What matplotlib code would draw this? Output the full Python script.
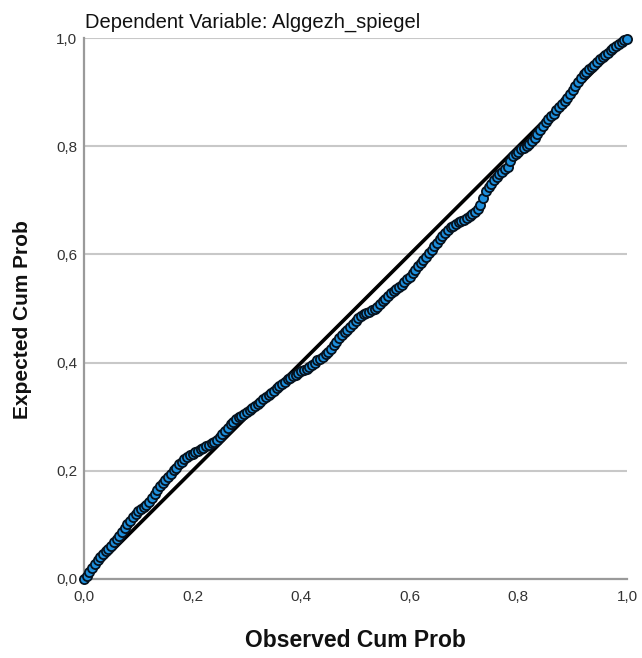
import matplotlib
matplotlib.use("Agg")
import matplotlib.pyplot as plt

plt.rcParams['font.family'] = ['Liberation Sans', 'DejaVu Sans']

title = "Dependent Variable: Alggezh_spiegel"
x_label = "Observed Cum Prob"
y_label = "Expected Cum Prob"
tick_values = [0.0, 0.2, 0.4, 0.6, 0.8, 1.0]
tick_labels = ["0,0", "0,2", "0,4", "0,6", "0,8", "1,0"]

observed = [
    0.000, 0.005, 0.010, 0.015, 0.020, 0.025, 0.030, 0.035, 0.040, 0.045,
    0.050, 0.055, 0.060, 0.065, 0.070, 0.075, 0.080, 0.085, 0.090, 0.095,
    0.100, 0.105, 0.110, 0.115, 0.120, 0.125, 0.130, 0.135, 0.140, 0.145,
    0.150, 0.155, 0.160, 0.165, 0.170, 0.175, 0.180, 0.185, 0.190, 0.195,
    0.200, 0.205, 0.210, 0.215, 0.220, 0.225, 0.230, 0.235, 0.240, 0.245,
    0.250, 0.255, 0.260, 0.265, 0.270, 0.275, 0.280, 0.285, 0.290, 0.295,
    0.300, 0.305, 0.310, 0.315, 0.320, 0.325, 0.330, 0.335, 0.340, 0.345,
    0.350, 0.355, 0.360, 0.365, 0.370, 0.375, 0.380, 0.385, 0.390, 0.395,
    0.400, 0.405, 0.410, 0.415, 0.420, 0.425, 0.430, 0.435, 0.440, 0.445,
    0.450, 0.455, 0.460, 0.465, 0.470, 0.475, 0.480, 0.485, 0.490, 0.495,
    0.500, 0.505, 0.510, 0.515, 0.520, 0.525, 0.530, 0.535, 0.540, 0.545,
    0.550, 0.555, 0.560, 0.565, 0.570, 0.575, 0.580, 0.585, 0.590, 0.595,
    0.600, 0.605, 0.610, 0.615, 0.620, 0.625, 0.630, 0.635, 0.640, 0.645,
    0.650, 0.655, 0.660, 0.665, 0.670, 0.675, 0.680, 0.685, 0.690, 0.695,
    0.700, 0.705, 0.710, 0.715, 0.720, 0.725, 0.730, 0.735, 0.740, 0.745,
    0.750, 0.755, 0.760, 0.765, 0.770, 0.775, 0.780, 0.785, 0.790, 0.795,
    0.800, 0.805, 0.810, 0.815, 0.820, 0.825, 0.830, 0.835, 0.840, 0.845,
    0.850, 0.855, 0.860, 0.865, 0.870, 0.875, 0.880, 0.885, 0.890, 0.895,
    0.900, 0.905, 0.910, 0.915, 0.920, 0.925, 0.930, 0.935, 0.940, 0.945,
    0.950, 0.955, 0.960, 0.965, 0.970, 0.975, 0.980, 0.985, 0.990, 0.995,
    1.000]
expected = [
    0.000, 0.006, 0.013, 0.020, 0.027, 0.035, 0.041, 0.046, 0.051, 0.056,
    0.061, 0.068, 0.074, 0.080, 0.087, 0.094, 0.101, 0.108, 0.115, 0.121,
    0.126, 0.130, 0.133, 0.137, 0.142, 0.149, 0.157, 0.164, 0.171, 0.177,
    0.183, 0.189, 0.195, 0.201, 0.206, 0.212, 0.217, 0.222, 0.226, 0.229,
    0.231, 0.234, 0.237, 0.240, 0.242, 0.245, 0.248, 0.251, 0.254, 0.257,
    0.262, 0.268, 0.274, 0.280, 0.286, 0.291, 0.295, 0.299, 0.302, 0.305,
    0.309, 0.313, 0.317, 0.320, 0.324, 0.328, 0.332, 0.336, 0.340, 0.344,
    0.348, 0.353, 0.357, 0.361, 0.365, 0.369, 0.372, 0.375, 0.378, 0.381,
    0.384, 0.386, 0.389, 0.392, 0.396, 0.400, 0.404, 0.407, 0.411, 0.415,
    0.419, 0.425, 0.432, 0.439, 0.445, 0.451, 0.456, 0.461, 0.466, 0.472,
    0.477, 0.482, 0.486, 0.489, 0.491, 0.494, 0.497, 0.500, 0.503, 0.508,
    0.513, 0.518, 0.523, 0.528, 0.532, 0.536, 0.540, 0.544, 0.549, 0.554,
    0.559, 0.566, 0.572, 0.578, 0.584, 0.590, 0.596, 0.602, 0.608, 0.615,
    0.621, 0.628, 0.634, 0.640, 0.646, 0.650, 0.653, 0.656, 0.659, 0.662,
    0.664, 0.667, 0.671, 0.675, 0.679, 0.684, 0.691, 0.704, 0.717, 0.724,
    0.731, 0.737, 0.743, 0.748, 0.752, 0.757, 0.762, 0.773, 0.782, 0.786,
    0.790, 0.794, 0.797, 0.801, 0.804, 0.809, 0.815, 0.822, 0.830, 0.837,
    0.844, 0.850, 0.855, 0.860, 0.866, 0.872, 0.878, 0.884, 0.890, 0.897,
    0.903, 0.911, 0.918, 0.926, 0.933, 0.938, 0.942, 0.947, 0.951, 0.956,
    0.961, 0.965, 0.969, 0.973, 0.977, 0.981, 0.985, 0.989, 0.993, 0.996,
    0.999]
reference_line = [0.0, 1.0]

fig = plt.figure(figsize=(6.42, 6.58), dpi=100)
ax = fig.add_axes([84/642, 79/658, 543/642, 541/658])

ax.set_xlim(0, 1)
ax.set_ylim(0, 1)
ax.set_yticks(tick_values)
ax.set_yticklabels(tick_labels)
ax.set_xticks(tick_values)
ax.set_xticklabels(tick_labels)

ax.grid(axis='y', color='#c8c8c8', linewidth=1.5, zorder=0)
ax.set_axisbelow(True)
for s in ['top', 'right']:
    ax.spines[s].set_visible(False)
for s in ['left', 'bottom']:
    ax.spines[s].set_color('#9a9a9a')
    ax.spines[s].set_linewidth(1.6)

ax.tick_params(length=0, labelsize=11, labelcolor='#333333')
ax.tick_params(axis='x', pad=8)
ax.tick_params(axis='y', pad=5)

ax.plot(reference_line, reference_line, color='black', linewidth=2.6, zorder=2, clip_on=False)
ax.plot(observed, expected, linestyle='none', marker='o', markersize=6.6,
        markerfacecolor='#1e8fdc', markeredgecolor='#06121e', markeredgewidth=1.3,
        zorder=3, clip_on=False)

fig.text(85/642, 1 - 28/658, title, fontsize=14.5, ha='left', va='baseline', color='#111111')
fig.text((84 + 627) / 2 / 642, 1 - 647/658, x_label, fontsize=16.5, fontweight='bold',
         ha='center', va='baseline', color='#111111')
fig.text(23/642, 1 - 320/658, y_label, fontsize=15, fontweight='bold', rotation=90,
         ha='center', va='center', color='#111111')

fig.savefig("out.png", dpi=100, facecolor='white')
